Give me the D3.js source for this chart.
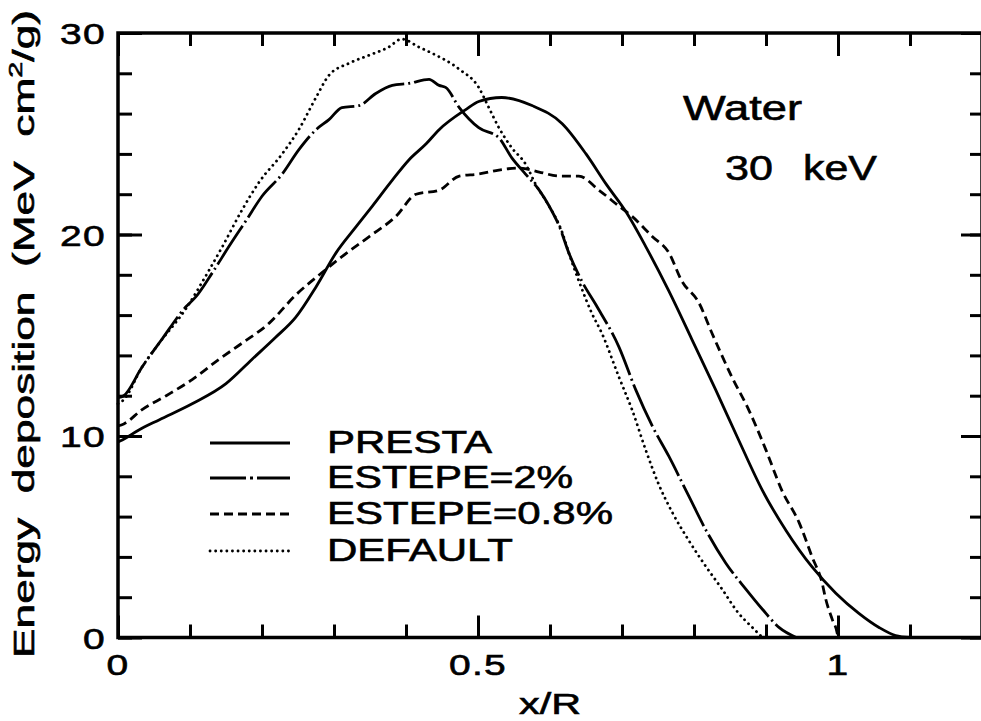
<!DOCTYPE html>
<html>
<head>
<meta charset="utf-8">
<script src="https://cdn.jsdelivr.net/npm/d3@7"></script>
<style>
  body { margin: 0; background: #fff; }
  text { font-family: "Liberation Sans", Arial, Helvetica, sans-serif; fill: #000; stroke: #000; stroke-width: 0.6; }
</style>
</head>
<body>
<svg id="chart"></svg>
<script>
// x/R , energy deposition (MeV cm2/g)
const presta = [
  [0, 9.7], [0.006, 9.8], [0.029, 10.3], [0.057, 10.8], [0.103, 11.6], [0.15, 12.6],
  [0.186, 13.8], [0.219, 14.9], [0.247, 15.9], [0.275, 17.4], [0.303, 19.1], [0.331, 20.4],
  [0.353, 21.4], [0.381, 22.7], [0.404, 23.7], [0.428, 24.5], [0.446, 25.2], [0.483, 26.2],
  [0.501, 26.6], [0.533, 26.8], [0.575, 26.4], [0.617, 25.5], [0.65, 24.0], [0.678, 22.5],
  [0.706, 21.1], [0.733, 19.4], [0.765, 17.2], [0.797, 14.8], [0.83, 12.3], [0.862, 9.8],
  [0.895, 7.3], [0.928, 5.3], [0.964, 3.5], [0.997, 2.2], [1.029, 1.2], [1.057, 0.5],
  [1.08, 0.1], [1.1, 0]
];
const estepe2 = [
  [0, 11.9], [0.008, 12.0], [0.033, 13.4], [0.061, 14.8], [0.094, 16.4], [0.108, 16.9],
  [0.131, 18.1], [0.154, 19.4], [0.178, 20.7], [0.2, 21.9], [0.228, 23.0], [0.251, 24.2],
  [0.275, 25.2], [0.293, 25.7], [0.311, 26.3], [0.335, 26.4], [0.358, 27.0], [0.381, 27.4],
  [0.404, 27.5], [0.432, 27.7], [0.446, 27.4], [0.455, 27.3], [0.474, 26.3], [0.501, 25.3],
  [0.529, 24.8], [0.547, 23.8], [0.566, 23.0], [0.585, 22.2], [0.599, 21.4], [0.613, 20.4],
  [0.626, 19.1], [0.644, 17.7], [0.664, 16.5], [0.696, 14.4], [0.719, 12.3], [0.742, 10.5],
  [0.765, 9.0], [0.793, 7.0], [0.817, 5.3], [0.844, 3.7], [0.872, 2.4], [0.895, 1.4],
  [0.918, 0.5], [0.942, 0]
];
const estepe08 = [
  [0, 10.5], [0.008, 10.6], [0.033, 11.3], [0.067, 12.0], [0.103, 12.8], [0.14, 13.8],
  [0.172, 14.6], [0.21, 15.6], [0.247, 17.0], [0.283, 18.1], [0.311, 18.9], [0.349, 19.9],
  [0.386, 20.9], [0.414, 22.0], [0.446, 22.2], [0.474, 22.9], [0.501, 23.0], [0.529, 23.2],
  [0.557, 23.3], [0.585, 23.1], [0.613, 22.9], [0.64, 22.9], [0.668, 22.2], [0.696, 21.4],
  [0.714, 20.9], [0.742, 19.9], [0.765, 19.1], [0.783, 17.7], [0.807, 16.6], [0.825, 15.1],
  [0.853, 12.9], [0.876, 11.3], [0.9, 9.3], [0.922, 7.3], [0.946, 5.7], [0.964, 4.0],
  [0.978, 2.7], [0.983, 1.9], [0.992, 0.9], [0.999, 0.2], [1.0, 0]
];
const defaultRun = [
  [0, 11.6], [0.008, 11.8], [0.033, 13.4], [0.057, 14.6], [0.094, 16.3], [0.126, 18.2],
  [0.145, 19.4], [0.172, 21.2], [0.196, 22.6], [0.228, 24.0], [0.251, 25.2], [0.275, 26.8],
  [0.293, 27.9], [0.321, 28.5], [0.349, 28.9], [0.376, 29.3], [0.394, 29.7], [0.418, 29.3],
  [0.436, 29.0], [0.474, 28.2], [0.501, 27.3], [0.515, 26.3], [0.529, 25.3], [0.547, 24.3],
  [0.566, 23.5], [0.58, 22.5], [0.599, 21.4], [0.617, 20.1], [0.626, 19.1], [0.64, 17.7],
  [0.658, 16.1], [0.672, 15.1], [0.696, 12.9], [0.714, 11.3], [0.733, 9.3], [0.751, 7.6],
  [0.77, 6.2], [0.793, 4.8], [0.817, 3.5], [0.839, 2.4], [0.862, 1.2], [0.881, 0.5],
  [0.895, 0]
];

const seriesNames = ["PRESTA", "ESTEPE=2%", "ESTEPE=0.8%", "DEFAULT"];
const seriesData = [presta, estepe2, estepe08, defaultRun];
const dashes = [null, "46,4,2,4", "9,5", "0.1,5.5"];

const xMajor = [0, 0.5, 1];
const xMinor = d3.range(0, 1.21, 0.1);
const yMajor = [0, 10, 20, 30];
const yMinor = d3.range(0, 31, 2);

const width = 981, height = 721;
const plotLeft = 118, plotRight = 982, plotTop = 33, plotBottom = 637.5;

const svg = d3.select("#chart").attr("width", width).attr("height", height);

const x = d3.scaleLinear().domain([0, 1.2]).range([plotLeft, plotRight]);
const y = d3.scaleLinear().domain([0, 30]).range([plotBottom, plotTop]);

// ticks, all pointing inward
function tickAxis(axis, pos, vals, size) {
  const g = svg.append("g")
    .attr("transform", pos)
    .call(axis.tickValues(vals).tickSize(size).tickSizeOuter(0).tickFormat(""));
  g.select(".domain").remove();
  g.selectAll("line").attr("stroke", "#000").attr("stroke-width", 3);
  return g;
}
tickAxis(d3.axisBottom(x), `translate(0,${plotBottom})`, xMinor, -13);
tickAxis(d3.axisBottom(x), `translate(0,${plotBottom})`, xMajor, -22);
tickAxis(d3.axisTop(x), `translate(0,${plotTop})`, xMinor, -13);
tickAxis(d3.axisTop(x), `translate(0,${plotTop})`, xMajor, -23);
tickAxis(d3.axisLeft(y), `translate(${plotLeft},0)`, yMinor, -14);
tickAxis(d3.axisLeft(y), `translate(${plotLeft},0)`, yMajor, -24);
tickAxis(d3.axisRight(y), `translate(${plotRight},0)`, yMinor, -12);
tickAxis(d3.axisRight(y), `translate(${plotRight},0)`, yMajor, -21);

// frame
svg.append("rect")
  .attr("x", plotLeft).attr("y", plotTop)
  .attr("width", plotRight - plotLeft).attr("height", plotBottom - plotTop)
  .attr("fill", "none").attr("stroke", "#000").attr("stroke-width", 3.5);

// tick labels (the scanned lettering is wide, so stretch it a bit)
svg.selectAll(".xlab").data(xMajor).enter().append("text")
  .attr("transform", d => `translate(${x(d)},675) scale(1.3,1)`)
  .attr("text-anchor", "middle")
  .attr("font-size", 30)
  .attr("letter-spacing", 1)
  .text(d => d3.format("~g")(d));

svg.selectAll(".ylab").data(yMajor).enter().append("text")
  .attr("transform", d => `translate(106,${y(d) + 11}) scale(1.3,1)`)
  .attr("text-anchor", "end")
  .attr("font-size", 30)
  .attr("letter-spacing", 1)
  .text(d => d);

// axis titles
svg.append("text")
  .attr("x", 519).attr("y", 714)
  .attr("font-size", 30)
  .attr("textLength", 62).attr("lengthAdjust", "spacingAndGlyphs")
  .text("x/R");

const yt = svg.append("text")
  .attr("transform", "translate(34,334) rotate(-90)")
  .attr("text-anchor", "middle")
  .attr("font-size", 29)
  .attr("textLength", 648).attr("lengthAdjust", "spacingAndGlyphs")
  .style("white-space", "pre");
yt.append("tspan").text("Energy  deposition  (MeV  cm");
yt.append("tspan").attr("font-size", 19).attr("dy", -12).text("2");
yt.append("tspan").attr("dy", 12).text("/g)");

// curves
const line = d3.line().x(d => x(d[0])).y(d => y(d[1])).curve(d3.curveMonotoneX);
seriesData.forEach((s, i) => {
  svg.append("path")
    .datum(s)
    .attr("d", line)
    .attr("fill", "none")
    .attr("stroke", "#000")
    .attr("stroke-width", 2.8)
    .attr("stroke-linecap", i === 3 ? "round" : "butt")
    .attr("stroke-dasharray", dashes[i]);
});

// legend
const legendY = [443, 478, 514, 551];
const legendW = [165, 246, 286, 186];
seriesNames.forEach((name, i) => {
  svg.append("line")
    .attr("x1", 210).attr("x2", 290)
    .attr("y1", legendY[i]).attr("y2", legendY[i])
    .attr("stroke", "#000")
    .attr("stroke-width", 2.8)
    .attr("stroke-linecap", i === 3 ? "round" : "butt")
    .attr("stroke-dasharray", i === 1 ? "36,4,3,4" : dashes[i]);
  svg.append("text")
    .attr("x", 327).attr("y", legendY[i] + 10)
    .attr("font-size", 31)
    .attr("textLength", legendW[i]).attr("lengthAdjust", "spacingAndGlyphs")
    .text(name);
});

// annotation
svg.append("text").attr("x", 683).attr("y", 120).attr("font-size", 35)
  .attr("textLength", 119).attr("lengthAdjust", "spacingAndGlyphs").text("Water");
svg.append("text").attr("x", 725).attr("y", 180).attr("font-size", 35)
  .attr("textLength", 48).attr("lengthAdjust", "spacingAndGlyphs").text("30");
svg.append("text").attr("x", 803).attr("y", 180).attr("font-size", 35)
  .attr("textLength", 74).attr("lengthAdjust", "spacingAndGlyphs").text("keV");
</script>
</body>
</html>
